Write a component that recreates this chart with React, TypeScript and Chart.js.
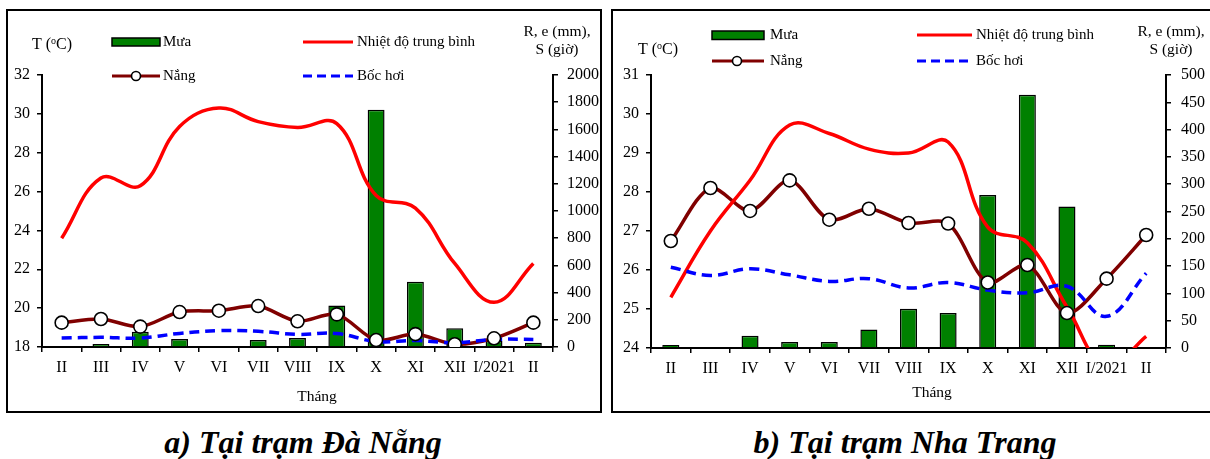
import React, { useEffect, useRef } from "react";
import { Chart, registerables } from "chart.js";

Chart.register(...registerables);

// ---------- DATA ----------
const months = ["II", "III", "IV", "V", "VI", "VII", "VIII", "IX", "X", "XI", "XII", "I/2021", "II"];

// Đà Nẵng
const dnRain = [5, 22, 112, 59, 0, 51, 66, 306, 1745, 480, 137, 45, 32];
const dnTemp = [23.6, 26.7, 26.3, 29.35, 30.3, 29.6, 29.3, 29.5, 25.8, 25.15, 22.3, 20.3, 22.3];
const dnSun = [179, 206, 150, 257, 267, 301, 189, 240, 51, 95, 20, 64, 179];
const dnEvap = [66, 71, 66, 100, 120, 115, 93, 99, 40, 47, 32, 56, 56];
const dnTempTicks = { min: 18, max: 32, step: 2 };
const dnRightTicks = { min: 0, max: 2000, step: 200 };

// Nha Trang
const ntRain = [5.5, 0, 22.5, 11, 11, 34, 72, 64, 280, 464, 259, 6, 0];
const ntTemp = [25.3, 27.0, 28.3, 29.72, 29.5, 29.1, 29.0, 29.28, 27.1, 26.7, 25.05, 23.5, 24.3];
const ntSun = [196, 293, 251, 307, 235, 255, 229, 228, 120, 152, 64, 127, 207];
const ntEvap = [148, 133, 145, 134, 122, 127, 110, 120, 106, 101, 113, 58, 137];
const ntTempTicks = { min: 24, max: 31, step: 1 };
const ntRightTicks = { min: 0, max: 500, step: 50 };

const legendLabels = { rain: "Mưa", temp: "Nhiệt độ trung bình", sun: "Nắng", evap: "Bốc hơi" };
const xTitle = "Tháng";
const rightTitle = ["R, e (mm),", "S (giờ)"];

const SERIF = "'Liberation Serif', 'Times New Roman', Times, serif";
const GREEN = "#008000";
const RED = "#FF0000";
const MAROON = "#800000";
const BLUE = "#0000FF";

type Spec = {
  rain: number[];
  temp: number[];
  sun: number[];
  evap: number[];
  tAxis: { min: number; max: number; step: number };
  rAxis: { min: number; max: number; step: number };
  width: number;
  height: number;
  yW: number;
  y1W: number;
  xH: number;
  top: number;
  rPad: number;
  lay: any;
};

function textPlugin(s: Spec) {
  return {
    id: "texts",
    afterDraw(chart: any) {
      const ctx = chart.ctx as CanvasRenderingContext2D;
      const L = s.lay;
      ctx.save();
      ctx.fillStyle = "#000";
      ctx.textBaseline = "middle";
      ctx.textAlign = "left";
      ctx.font = `15px ${SERIF}`;
      // rain box
      ctx.fillStyle = GREEN;
      ctx.fillRect(L.rainBox[0], L.rainBox[1], L.rainBox[2], L.rainBox[3]);
      ctx.strokeStyle = "#000";
      ctx.lineWidth = 1.5;
      ctx.strokeRect(L.rainBox[0], L.rainBox[1], L.rainBox[2], L.rainBox[3]);
      ctx.fillStyle = "#000";
      ctx.fillText(legendLabels.rain, L.textX1, L.row1);
      // sun line
      ctx.strokeStyle = MAROON;
      ctx.lineWidth = 3;
      ctx.beginPath();
      ctx.moveTo(L.x1a, L.row2);
      ctx.lineTo(L.x1b, L.row2);
      ctx.stroke();
      ctx.beginPath();
      ctx.arc(L.mx, L.row2, 4.5, 0, Math.PI * 2);
      ctx.fillStyle = "#fff";
      ctx.fill();
      ctx.strokeStyle = "#000";
      ctx.lineWidth = 1.6;
      ctx.stroke();
      ctx.fillStyle = "#000";
      ctx.fillText(legendLabels.sun, L.textX1, L.row2);
      // temp line
      ctx.strokeStyle = RED;
      ctx.lineWidth = 3;
      ctx.beginPath();
      ctx.moveTo(L.x2a, L.row1);
      ctx.lineTo(L.x2b, L.row1);
      ctx.stroke();
      ctx.fillText(legendLabels.temp, L.textX2, L.row1);
      // evap dashed
      ctx.strokeStyle = BLUE;
      ctx.setLineDash([9, 5]);
      ctx.beginPath();
      ctx.moveTo(L.x2a, L.row2);
      ctx.lineTo(L.x2b, L.row2);
      ctx.stroke();
      ctx.setLineDash([]);
      ctx.fillText(legendLabels.evap, L.textX2, L.row2);
      // left title T (oC)
      ctx.font = `16px ${SERIF}`;
      let x = L.tx;
      ctx.fillText("T (", x, L.ty);
      x += ctx.measureText("T (").width;
      ctx.font = `10px ${SERIF}`;
      ctx.fillText("o", x, L.ty - 4);
      x += ctx.measureText("o").width;
      ctx.font = `16px ${SERIF}`;
      ctx.fillText("C)", x, L.ty);
      // right title
      ctx.textAlign = "center";
      ctx.font = `15.5px ${SERIF}`;
      ctx.fillText(rightTitle[0], L.rx, L.ry1);
      ctx.fillText(rightTitle[1], L.rx, L.ry2);
      // x title
      ctx.font = `15.5px ${SERIF}`;
      ctx.fillText(xTitle, L.xtX, L.xtY);
      ctx.restore();
    },
  };
}

function buildConfig(s: Spec): any {
  const tickFont = { family: SERIF, size: 16 };
  const grid = {
    display: true,
    drawOnChartArea: false,
    drawTicks: true,
    tickLength: 5,
    color: "#000",
    lineWidth: 1.5,
  };
  const border = { display: true, color: "#000", width: 2 };
  const plain = (v: any) => String(v);
  return {
    type: "bar",
    data: {
      labels: months,
      datasets: [
        {
          type: "line",
          label: "sun-points",
          data: s.sun,
          yAxisID: "y1",
          showLine: false,
          pointRadius: 6.5,
          pointBackgroundColor: "#fff",
          pointBorderColor: "#000",
          pointBorderWidth: 1.6,
          order: 0,
        },
        {
          type: "line",
          label: legendLabels.evap,
          data: s.evap,
          yAxisID: "y1",
          borderColor: BLUE,
          borderWidth: 3.5,
          borderDash: [10, 6],
          tension: 0.4,
          pointRadius: 0,
          fill: false,
          order: 1,
        },
        {
          type: "line",
          label: legendLabels.temp,
          data: s.temp,
          yAxisID: "y",
          borderColor: RED,
          borderWidth: 3.5,
          tension: 0.4,
          pointRadius: 0,
          fill: false,
          clip: 0,
          order: 2,
        },
        {
          type: "line",
          label: legendLabels.sun,
          data: s.sun,
          yAxisID: "y1",
          borderColor: MAROON,
          borderWidth: 3.5,
          tension: 0.3,
          pointRadius: 0,
          fill: false,
          order: 3,
        },
        {
          type: "bar",
          label: legendLabels.rain,
          data: s.rain,
          yAxisID: "y1",
          backgroundColor: GREEN,
          borderColor: "#000",
          borderWidth: 1.5,
          categoryPercentage: 1,
          barPercentage: 0.43,
          order: 4,
        },
      ],
    },
    options: {
      animation: false,
      responsive: false,
      events: [],
      layout: { padding: { top: s.top, left: 0, right: 0, bottom: 0 } },
      plugins: { legend: { display: false }, tooltip: { enabled: false }, title: { display: false } },
      scales: {
        x: {
          type: "category",
          offset: true,
          grid: { ...grid, offset: true },
          border,
          ticks: { font: tickFont, color: "#000", autoSkip: false, maxRotation: 0, minRotation: 0, padding: 6 },
          afterFit: (sc: any) => {
            sc.height = s.xH;
          },
        },
        y: {
          position: "left",
          min: s.tAxis.min,
          max: s.tAxis.max,
          grid,
          border,
          ticks: { stepSize: s.tAxis.step, font: tickFont, color: "#000", padding: 7, callback: plain },
          afterFit: (sc: any) => {
            sc.width = s.yW;
          },
        },
        y1: {
          position: "right",
          min: s.rAxis.min,
          max: s.rAxis.max,
          grid,
          border,
          ticks: { stepSize: s.rAxis.step, font: tickFont, color: "#000", padding: s.rPad, callback: plain },
          afterFit: (sc: any) => {
            sc.width = s.y1W;
          },
        },
      },
    },
    plugins: [textPlugin(s)],
  };
}

function ChartCanvas({ spec }: { spec: Spec }) {
  const ref = useRef<HTMLCanvasElement | null>(null);
  useEffect(() => {
    if (!ref.current) return;
    const chart = new Chart(ref.current, buildConfig(spec));
    return () => chart.destroy();
  }, [spec]);
  return (
    <canvas
      ref={ref}
      width={spec.width}
      height={spec.height}
      style={{ display: "block", width: spec.width, height: spec.height }}
    />
  );
}

const dnSpec: Spec = {
  rain: dnRain,
  temp: dnTemp,
  sun: dnSun,
  evap: dnEvap,
  tAxis: dnTempTicks,
  rAxis: dnRightTicks,
  width: 592,
  height: 400,
  yW: 34,
  y1W: 47,
  xH: 64,
  top: 64,
  rPad: 9,
  lay: {
    rainBox: [104, 27, 48, 8],
    row1: 31,
    row2: 65,
    textX1: 155,
    x1a: 104,
    x1b: 152,
    mx: 128,
    x2a: 295,
    x2b: 345,
    textX2: 349,
    tx: 24,
    ty: 34,
    rx: 549,
    ry1: 21,
    ry2: 39,
    xtX: 309,
    xtY: 386,
  },
};

const ntSpec: Spec = {
  rain: ntRain,
  temp: ntTemp,
  sun: ntSun,
  evap: ntEvap,
  tAxis: ntTempTicks,
  rAxis: ntRightTicks,
  width: 600,
  height: 400,
  yW: 38,
  y1W: 47,
  xH: 63,
  top: 64,
  rPad: 10,
  lay: {
    rainBox: [99, 20, 52, 8.5],
    row1: 24,
    row2: 50,
    textX1: 157,
    x1a: 99,
    x1b: 151,
    mx: 124,
    x2a: 304,
    x2b: 359,
    textX2: 363,
    tx: 25,
    ty: 39,
    rx: 558,
    ry1: 21,
    ry2: 39,
    xtX: 319,
    xtY: 382,
  },
};

export default function App() {
  const panelStyle = (left: number, width: number): React.CSSProperties => ({
    position: "absolute",
    left,
    top: 9,
    width,
    height: 404,
    border: "2px solid #000",
    boxSizing: "border-box",
    background: "#fff",
  });
  const captionStyle = (left: number, width: number): React.CSSProperties => ({
    position: "absolute",
    left,
    width,
    top: 424,
    textAlign: "center",
    fontFamily: SERIF,
    fontWeight: "bold",
    fontStyle: "italic",
    fontSize: 32,
    lineHeight: "36px",
    color: "#000",
    whiteSpace: "nowrap",
  });
  return (
    <div
      style={{
        position: "absolute",
        left: 0,
        top: 0,
        width: 1210,
        height: 459,
        overflow: "hidden",
        background: "#fff",
      }}
    >
      <div style={panelStyle(6, 596)}>
        <ChartCanvas spec={dnSpec} />
      </div>
      <div style={panelStyle(611, 604)}>
        <ChartCanvas spec={ntSpec} />
      </div>
      <div style={captionStyle(0, 606)}>a) Tại trạm Đà Nẵng</div>
      <div style={captionStyle(606, 598)}>b) Tại trạm Nha Trang</div>
    </div>
  );
}
